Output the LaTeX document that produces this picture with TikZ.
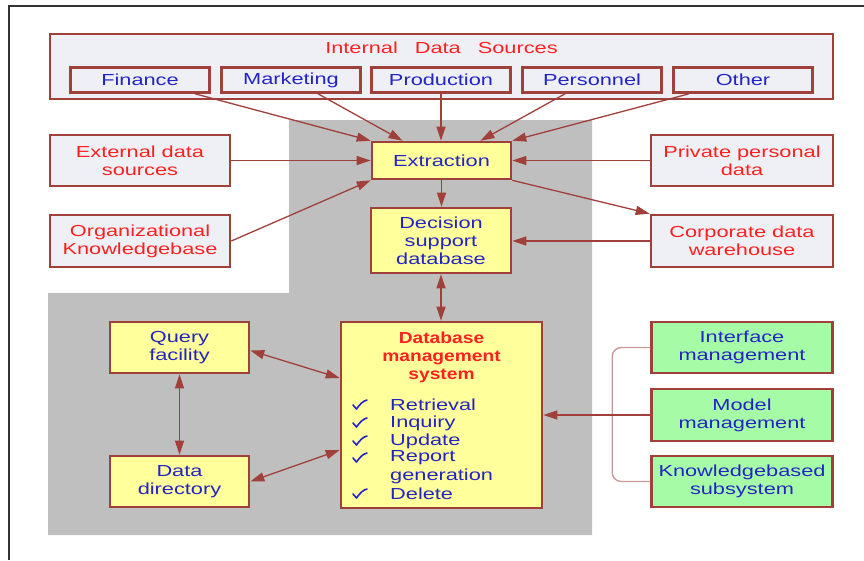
\documentclass[tikz,border=0pt]{standalone}
\usepackage{fontspec}
\setmainfont{Liberation Sans}[FakeStretch=1.36]
\newfontfamily\boldwide{Liberation Sans}[FakeStretch=1.2]
\usetikzlibrary{arrows.meta,calc}
\definecolor{bord}{HTML}{A0403A}
\definecolor{pale}{HTML}{EEF0F5}
\definecolor{yel}{HTML}{FFFF9C}
\definecolor{grn}{HTML}{A6FCA6}
\definecolor{txtred}{HTML}{FF2020}
\definecolor{txtblue}{HTML}{2424C4}
\definecolor{graybg}{HTML}{BFBFBF}
\definecolor{brk}{HTML}{C89A98}
\tikzset{
  base/.style={draw=bord,line width=2.6pt,inner sep=0pt,align=center,
    font=\fontsize{16}{18}\selectfont},
  palebox/.style={base,fill=pale,text=txtred},
  subbox/.style={base,fill=pale,text=txtblue,minimum width=139pt,minimum height=25pt},
  yelbox/.style={base,fill=yel,text=txtblue},
  grnbox/.style={base,fill=grn,text=txtblue,minimum width=181pt,minimum height=51pt},
  arr/.style={draw=bord,line width=1.3pt,-{Triangle[length=14pt,width=9pt]}},
  darr/.style={draw=bord,line width=1.3pt,{Triangle[length=14pt,width=9pt]}-{Triangle[length=14pt,width=9pt]}},
  plain/.style={text=txtblue,font=\fontsize{16}{18}\selectfont,inner sep=0pt},
  tick/.pic={\draw[txtblue,line width=1.6pt,line cap=round,line join=round]
     (-7,0) -- (-3.5,4) .. controls (0,-1) and (3,-4) .. (7,-5);},
}
\begin{document}
\begin{tikzpicture}[x=1pt,y=-1pt]
\useasboundingbox (0,0) rectangle (864,560);
% frame
\draw[line width=2pt,color=black!80] (9,560) -- (9,6) -- (864,6);
% shaded region
\fill[graybg] (289,120) -- (592,120) -- (592,535) -- (48,535) -- (48,293) -- (289,293) -- cycle;
% internal data sources
\node[palebox,minimum width=783pt,minimum height=65pt] (ids) at (441.5,66.5) {};
\node[text=txtred,font=\fontsize{16}{18}\selectfont,inner sep=0pt] (idst) at (441.5,48) {Internal\hspace{11pt} Data\hspace{11pt} Sources};
\node[subbox] (fin) at (140,80) {Finance};
\node[subbox] (mkt) at (291,80) {Marketing};
\node[subbox] (prd) at (441,80) {Production};
\node[subbox] (per) at (592,80) {Personnel};
\node[subbox] (oth) at (743,80) {Other};
% side boxes
\node[palebox,minimum width=180pt,minimum height=51pt] (ext) at (140,160.5) {External data\\sources};
\node[palebox,minimum width=180pt,minimum height=52pt] (org) at (140,241) {Organizational\\Knowledgebase};
\node[palebox,minimum width=182pt,minimum height=51pt] (prv) at (742,160.5) {Private personal\\data};
\node[palebox,minimum width=182pt,minimum height=52pt] (cdw) at (742,241) {Corporate data\\warehouse};
% central
\node[yelbox,minimum width=139pt,minimum height=37pt] (xtr) at (441.5,160.5) {Extraction};
\node[yelbox,minimum width=140pt,minimum height=65pt] (dsd) at (441,240.5) {Decision\\support\\database};
\node[yelbox,minimum width=139pt,minimum height=51pt] (qry) at (179.5,347.5) {Query\\facility};
\node[yelbox,minimum width=139pt,minimum height=51pt] (ddr) at (179.5,481.5) {Data\\directory};
\node[yelbox,minimum width=201pt,minimum height=186pt] (dbms) at (441.5,415) {};
\node[text=txtred,align=center,inner sep=0pt,font=\boldwide\bfseries\fontsize{16}{18}\selectfont] (dbt) at (441.5,357) {Database\\management\\system};
\pic at (360,405) {tick};
\pic at (360,423) {tick};
\pic at (360,441) {tick};
\pic at (360,458) {tick};
\pic at (360,494) {tick};
\node[plain,anchor=west] (l1) at (390,405) {Retrieval};
\node[plain,anchor=west] (l2) at (390,423) {Inquiry};
\node[plain,anchor=west] (l3) at (390,441) {Update};
\node[plain,anchor=west] (l4) at (390,458) {Report};
\node[plain,anchor=west] (l5) at (390,476) {generation};
\node[plain,anchor=west] (l6) at (390,494) {Delete};
% green boxes
\node[grnbox] (ifm) at (742,347.5) {Interface\\management};
\node[grnbox,minimum height=52pt] (mdl) at (742,415) {Model\\management};
\node[grnbox] (kbs) at (742,481.5) {Knowledgebased\\subsystem};
% bracket
\draw[brk,line width=1.4pt,rounded corners=9pt] (ifm.west) -- ($(ifm.west)+(-38,0)$) -- ($(kbs.west)+(-38,0)$) -- (kbs.west);
% arrows
\draw[arr] ($(fin.south)+(55,0)$) -- (xtr.north west);
\draw[arr] ($(mkt.south)+(27,0)$) -- ($(xtr.north)+(-39,0)$);
\draw[arr] (prd.south) -- (prd.south |- xtr.north);
\draw[arr] ($(per.south)+(-27,0)$) -- ($(xtr.north)+(39,0)$);
\draw[arr] ($(oth.south)+(-54,0)$) -- (xtr.north east);
\draw[arr] (ext.east) -- (xtr.west);
\draw[arr] (org.east) -- (xtr.south west);
\draw[arr] (prv.west) -- (xtr.east);
\draw[arr] (xtr.south east) -- (cdw.north west);
\draw[arr] (xtr.south) -- (xtr.south |- dsd.north);
\draw[arr] (cdw.west) -- (cdw.west -| dsd.east);
\draw[darr] (dsd.south) -- (dsd.south |- dbms.north);
\draw[darr] ($(qry.east)+(0,3)$) -- ($(dbms.west)+(0,-37)$);
\draw[darr] (qry.south) -- (ddr.north);
\draw[darr] (ddr.east) -- ($(dbms.west)+(0,35)$);
\draw[arr] (mdl.west) -- (dbms.east);
\end{tikzpicture}
\end{document}
